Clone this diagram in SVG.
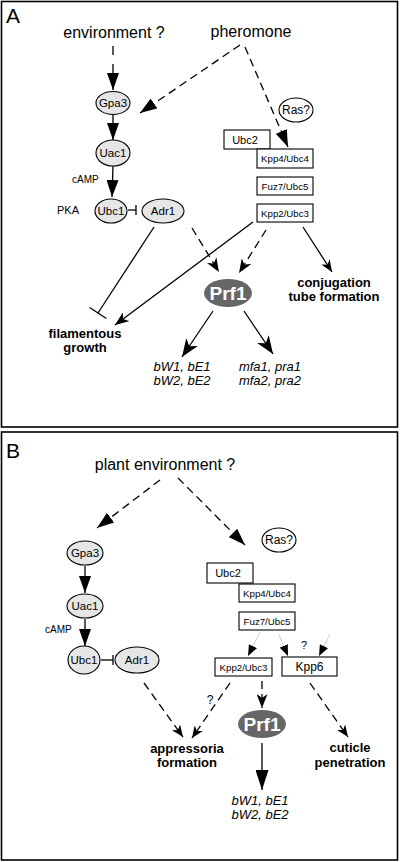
<svg xmlns="http://www.w3.org/2000/svg" width="400" height="862" viewBox="0 0 400 862">
<style>
text{font-family:"Liberation Sans",Arial,sans-serif;fill:#000}
.frame{fill:#fff;stroke:#000;stroke-width:1.6}
.lbl{font-size:21px}
.top{font-size:16px;text-anchor:middle}
.el{fill:#e6e6e6;stroke:#000;stroke-width:1.1}
.ras{fill:#fff;stroke:#000;stroke-width:1.1}
.box{fill:#fff;stroke:#000;stroke-width:1.1}
.et{font-size:11.5px;text-anchor:middle}
.bt{font-size:9.7px;text-anchor:middle}
.bt2{font-size:11px;text-anchor:middle}
.prf{fill:#666}
.prft{font-size:19px;font-weight:bold;fill:#fff;text-anchor:middle}
.out{font-size:13px;font-weight:bold;text-anchor:middle}
.gene{font-size:13px;font-style:italic;text-anchor:middle}
.sm{font-size:10px}
.q{font-size:12px;text-anchor:middle;fill:#000}
.ln{fill:none;stroke:#000;stroke-width:1.3}
.ds{stroke-dasharray:8,5}
.faint{fill:none;stroke:#ccc;stroke-width:1}
</style>
<defs>
<marker id="tri" viewBox="0 0 17 12" refX="17" refY="6" markerWidth="17" markerHeight="12" markerUnits="userSpaceOnUse" orient="auto"><path d="M0,0 L17,6 L0,12 z" fill="#000"/></marker>
<marker id="triL" viewBox="0 0 20 13" refX="20" refY="6.5" markerWidth="20" markerHeight="13" markerUnits="userSpaceOnUse" orient="auto"><path d="M0,0 L20,6.5 L0,13 z" fill="#000"/></marker>
<marker id="triS" viewBox="0 0 11 9" refX="11" refY="4.5" markerWidth="11" markerHeight="9" markerUnits="userSpaceOnUse" orient="auto"><path d="M0,0 L11,4.5 L0,9 z" fill="#000"/></marker>
<marker id="notch" viewBox="0 0 14 11" refX="14" refY="5.5" markerWidth="14" markerHeight="11" markerUnits="userSpaceOnUse" orient="auto"><path d="M0,0 L14,5.5 L0,11 L4,5.5 z" fill="#000"/></marker>
<marker id="notchL" viewBox="0 0 18 14" refX="18" refY="7" markerWidth="18" markerHeight="14" markerUnits="userSpaceOnUse" orient="auto"><path d="M0,0 L18,7 L0,14 L5,7 z" fill="#000"/></marker>
<marker id="notchS" viewBox="0 0 12 10" refX="12" refY="5" markerWidth="12" markerHeight="10" markerUnits="userSpaceOnUse" orient="auto"><path d="M0,0 L12,5 L0,10 L3.5,5 z" fill="#000"/></marker>
</defs>

<rect class="frame" x="1.5" y="1.5" width="396" height="425.5"/>
<rect class="frame" x="1.5" y="432" width="396" height="428"/>
<text class="lbl" x="6" y="23">A</text>
<text class="lbl" x="6" y="458">B</text>

<!-- Panel A connectors -->
<g id="connectors-A">
<line class="ln" x1="113" y1="46" x2="113" y2="90" stroke-dasharray="9,9" marker-end="url(#tri)"/>
<line class="ln" x1="113" y1="115" x2="113" y2="140" marker-end="url(#tri)"/>
<line class="ln" x1="113" y1="166" x2="112" y2="197" marker-end="url(#tri)"/>
<line class="ln" x1="128" y1="210" x2="136" y2="210"/>
<line class="ln" x1="136" y1="205" x2="136" y2="215"/>
<line class="ln" x1="154" y1="227" x2="98" y2="313"/>
<line class="ln" x1="89.6" y1="307.5" x2="106.4" y2="318.5"/>
<line class="ln" x1="253" y1="222" x2="115" y2="325" marker-end="url(#notch)"/>
<line class="ln ds" x1="192" y1="228" x2="219" y2="272" marker-end="url(#notch)"/>
<line class="ln ds" x1="266" y1="230" x2="239" y2="273" marker-end="url(#notch)"/>
<line class="ln" x1="303" y1="227" x2="332" y2="272" marker-end="url(#notchS)"/>
<line class="ln" x1="213" y1="311" x2="182" y2="357" marker-end="url(#notchL)"/>
<line class="ln" x1="244" y1="311" x2="273" y2="354" marker-end="url(#notchL)"/>
<line class="ln ds" x1="240" y1="45" x2="140" y2="113" marker-end="url(#tri)"/>
<line class="ln ds" x1="245" y1="47" x2="288" y2="147" marker-end="url(#tri)"/>
</g>

<!-- Panel A nodes -->
<g id="a-environment"><text class="top" x="114" y="38">environment ?</text></g>
<g id="a-pheromone"><text class="top" x="251" y="37">pheromone</text></g>
<g id="a-gpa3"><ellipse class="el" cx="113" cy="103" rx="17" ry="11.5"/><text class="et" x="113" y="107">Gpa3</text></g>
<g id="a-uac1"><ellipse class="el" cx="113" cy="153" rx="17" ry="13"/><text class="et" x="113" y="157">Uac1</text></g>
<g id="a-camp"><text class="sm" x="72" y="183">cAMP</text></g>
<g id="a-pka"><text class="bt2" x="68" y="214">PKA</text></g>
<g id="a-ubc1"><ellipse class="el" cx="111" cy="211" rx="16" ry="12"/><text class="et" x="111" y="215">Ubc1</text></g>
<g id="a-adr1"><ellipse class="el" cx="163" cy="211" rx="21" ry="12"/><text class="et" x="163" y="215">Adr1</text></g>
<g id="a-ras"><ellipse class="ras" cx="296" cy="110" rx="17" ry="12"/><text class="et" x="296" y="114" style="font-size:12px">Ras?</text></g>
<g id="a-ubc2"><rect class="box" x="224" y="130" width="46" height="19"/><text class="bt2" x="245" y="144">Ubc2</text></g>
<g id="a-kpp4"><rect class="box" x="257" y="149" width="56" height="19"/><text class="bt" x="285" y="162">Kpp4/Ubc4</text></g>
<g id="a-fuz7"><rect class="box" x="257" y="177" width="56" height="18"/><text class="bt" x="285" y="190">Fuz7/Ubc5</text></g>
<g id="a-kpp2"><rect class="box" x="257" y="204" width="56" height="18"/><text class="bt" x="285" y="217">Kpp2/Ubc3</text></g>
<g id="a-prf1"><ellipse class="prf" cx="228" cy="293" rx="24" ry="14"/><text class="prft" x="228" y="300">Prf1</text></g>
<g id="a-filamentous"><text class="out" x="85" y="338">filamentous</text><text class="out" x="85" y="352">growth</text></g>
<g id="a-conjugation"><text class="out" x="334" y="287">conjugation</text><text class="out" x="334" y="301">tube formation</text></g>
<g id="a-bw"><text class="gene" x="182" y="371">bW1, bE1</text><text class="gene" x="182" y="385">bW2, bE2</text></g>
<g id="a-mfa"><text class="gene" x="270" y="371">mfa1, pra1</text><text class="gene" x="270" y="385">mfa2, pra2</text></g>

<!-- Panel B connectors -->
<g id="connectors-B">
<line class="ln ds" x1="160" y1="480" x2="97" y2="528" marker-end="url(#tri)"/>
<line class="ln ds" x1="178" y1="478" x2="245" y2="545" marker-end="url(#tri)"/>
<line class="ln" x1="85" y1="566" x2="85" y2="593" marker-end="url(#tri)"/>
<line class="ln" x1="85" y1="619" x2="85" y2="646" marker-end="url(#tri)"/>
<line class="ln" x1="101" y1="660" x2="113" y2="660"/>
<line class="ln" x1="113" y1="655" x2="113" y2="665"/>
<line class="ln ds" x1="144" y1="683" x2="183" y2="737" marker-end="url(#notchS)"/>
<line class="ln ds" x1="230" y1="683" x2="192" y2="738" marker-end="url(#notchS)"/>
<line class="faint" x1="260" y1="632" x2="248" y2="656" marker-end="url(#triS)"/>
<line class="faint" x1="279" y1="635" x2="288" y2="656" marker-end="url(#triS)"/>
<line class="faint" x1="330" y1="634" x2="319" y2="656" marker-end="url(#triS)"/>
<line class="ln ds" x1="262" y1="681" x2="262" y2="708" marker-end="url(#notch)"/>
<line class="ln" x1="262" y1="743" x2="262" y2="790" marker-end="url(#triL)"/>
<line class="ln ds" x1="310" y1="683" x2="348" y2="737" marker-end="url(#notchS)"/>
<text class="q" x="210" y="704">?</text>
<text class="q" x="304" y="649" style="font-size:11px">?</text>
</g>

<!-- Panel B nodes -->
<g id="b-plant"><text class="top" x="165" y="470">plant environment ?</text></g>
<g id="b-gpa3"><ellipse class="el" cx="85" cy="553" rx="18" ry="12"/><text class="et" x="85" y="557">Gpa3</text></g>
<g id="b-uac1"><ellipse class="el" cx="85" cy="606" rx="18" ry="12"/><text class="et" x="85" y="610">Uac1</text></g>
<g id="b-camp"><text class="sm" x="45" y="633">cAMP</text></g>
<g id="b-ubc1"><ellipse class="el" cx="84" cy="660" rx="16" ry="14"/><text class="et" x="84" y="664">Ubc1</text></g>
<g id="b-adr1"><ellipse class="el" cx="137" cy="660" rx="22" ry="13"/><text class="et" x="137" y="664">Adr1</text></g>
<g id="b-ras"><ellipse class="ras" cx="279" cy="540" rx="17" ry="12"/><text class="et" x="279" y="544" style="font-size:12px">Ras?</text></g>
<g id="b-ubc2"><rect class="box" x="207" y="563" width="46" height="20"/><text class="bt2" x="228" y="577">Ubc2</text></g>
<g id="b-kpp4"><rect class="box" x="239" y="584" width="56" height="18"/><text class="bt" x="267" y="597">Kpp4/Ubc4</text></g>
<g id="b-fuz7"><rect class="box" x="239" y="612" width="56" height="18"/><text class="bt" x="267" y="625">Fuz7/Ubc5</text></g>
<g id="b-kpp2"><rect class="box" x="215" y="658" width="57" height="18"/><text class="bt" x="243.5" y="671">Kpp2/Ubc3</text></g>
<g id="b-kpp6"><rect class="box" x="282" y="657" width="55" height="19"/><text class="et" x="309.5" y="671" style="font-size:12px">Kpp6</text></g>
<g id="b-prf1"><ellipse class="prf" cx="262" cy="724" rx="24" ry="14"/><text class="prft" x="262" y="731">Prf1</text></g>
<g id="b-appressoria"><text class="out" x="187" y="753">appressoria</text><text class="out" x="187" y="767">formation</text></g>
<g id="b-cuticle"><text class="out" x="350" y="752">cuticle</text><text class="out" x="350" y="767">penetration</text></g>
<g id="b-bw"><text class="gene" x="260" y="805">bW1, bE1</text><text class="gene" x="260" y="819">bW2, bE2</text></g>
</svg>
